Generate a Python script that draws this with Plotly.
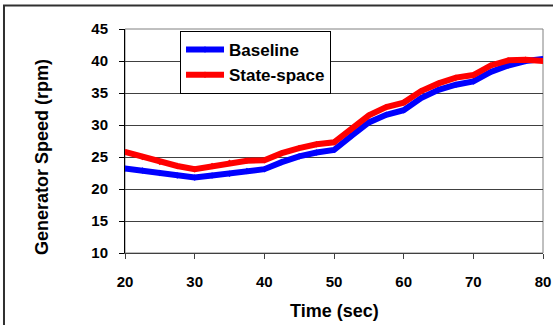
import plotly.graph_objects as go

time_s = [20, 22.5, 25, 27.5, 30, 32.5, 35, 37.5, 40, 42.5, 45, 47.5, 50,
          52.5, 55, 57.5, 60, 62.5, 65, 67.5, 70, 72.5, 75, 77.5, 80]
baseline = [23.2, 22.9, 22.5, 22.1, 21.8, 22.1, 22.4, 22.8, 23.1, 24.2, 25.1, 25.7, 26.1,
            28.3, 30.4, 31.6, 32.3, 34.2, 35.5, 36.3, 36.8, 38.3, 39.3, 40.0, 40.3]
state_space = [25.8, 25.0, 24.2, 23.6, 23.1, 23.6, 24.1, 24.4, 24.5, 25.6, 26.4, 27.0, 27.3,
               29.3, 31.5, 32.8, 33.5, 35.3, 36.5, 37.4, 37.8, 39.3, 40.1, 40.2, 40.0]

x_ticks = [20, 30, 40, 50, 60, 70, 80]
y_ticks = [10, 15, 20, 25, 30, 35, 40, 45]

FONT = "Liberation Sans, Arial, sans-serif"

fig = go.Figure()
fig.add_trace(go.Scatter(x=time_s, y=baseline, name="Baseline", mode="lines+markers",
                         line=dict(color="#0000FF", width=6),
                         marker=dict(symbol="diamond", size=5, color="#0000FF")))
fig.add_trace(go.Scatter(x=time_s, y=state_space, name="State-space", mode="lines+markers",
                         line=dict(color="#FF0000", width=6),
                         marker=dict(symbol="diamond", size=5, color="#FF0000")))

fig.update_layout(
    width=553, height=325,
    margin=dict(l=125, r=10, t=29, b=72, autoexpand=False),
    paper_bgcolor="white", plot_bgcolor="white",
    font=dict(family=FONT, color="black"),
    xaxis=dict(range=[20, 80], tickvals=x_ticks, showgrid=False, zeroline=False, automargin=False,
               showline=True, linecolor="#404040", linewidth=1,
               ticks="outside", ticklen=5, tickcolor="#404040", ticklabelstandoff=10,
               tickfont=dict(size=15, weight="bold")),
    yaxis=dict(range=[10, 45], tickvals=y_ticks, showgrid=True, gridcolor="#404040", gridwidth=1,
               zeroline=False, showline=True, linecolor="black", linewidth=1, automargin=False,
               ticks="outside", ticklen=5, tickcolor="black", ticklabelstandoff=8,
               tickfont=dict(size=15, weight="bold")),
    yaxis2=dict(range=[10, 45], tickvals=y_ticks, overlaying="y", side="left", automargin=False,
                showgrid=False, zeroline=False, showticklabels=False,
                ticks="inside", ticklen=5, tickcolor="black"),
    legend=dict(x=0.1316, y=0.991, xanchor="left", yanchor="top", itemwidth=38,
                bgcolor="white", bordercolor="black", borderwidth=1,
                font=dict(size=17, weight="bold", family=FONT)),
    annotations=[
        dict(text="Generator Speed (rpm)", textangle=-90, xref="paper", yref="paper",
             x=-0.1986, y=0.4286, xanchor="center", yanchor="middle", showarrow=False,
             font=dict(size=18, weight="bold", family=FONT, color="black")),
        dict(text="Time (sec)", xref="paper", yref="paper",
             x=0.5, y=-0.259, xanchor="center", yanchor="middle", showarrow=False,
             font=dict(size=18, weight="bold", family=FONT, color="black")),
    ],
    shapes=[
        dict(type="rect", xref="paper", yref="paper", x0=0, x1=1, y0=0, y1=1,
             line=dict(color="#808080", width=1), layer="below"),
        dict(type="rect", xref="paper", yref="paper", x0=-0.2895, x1=1.2, y0=-0.5, y1=1.105,
             line=dict(color="#303030", width=2), layer="below"),
    ],
)
fig.write_html("out.html")
